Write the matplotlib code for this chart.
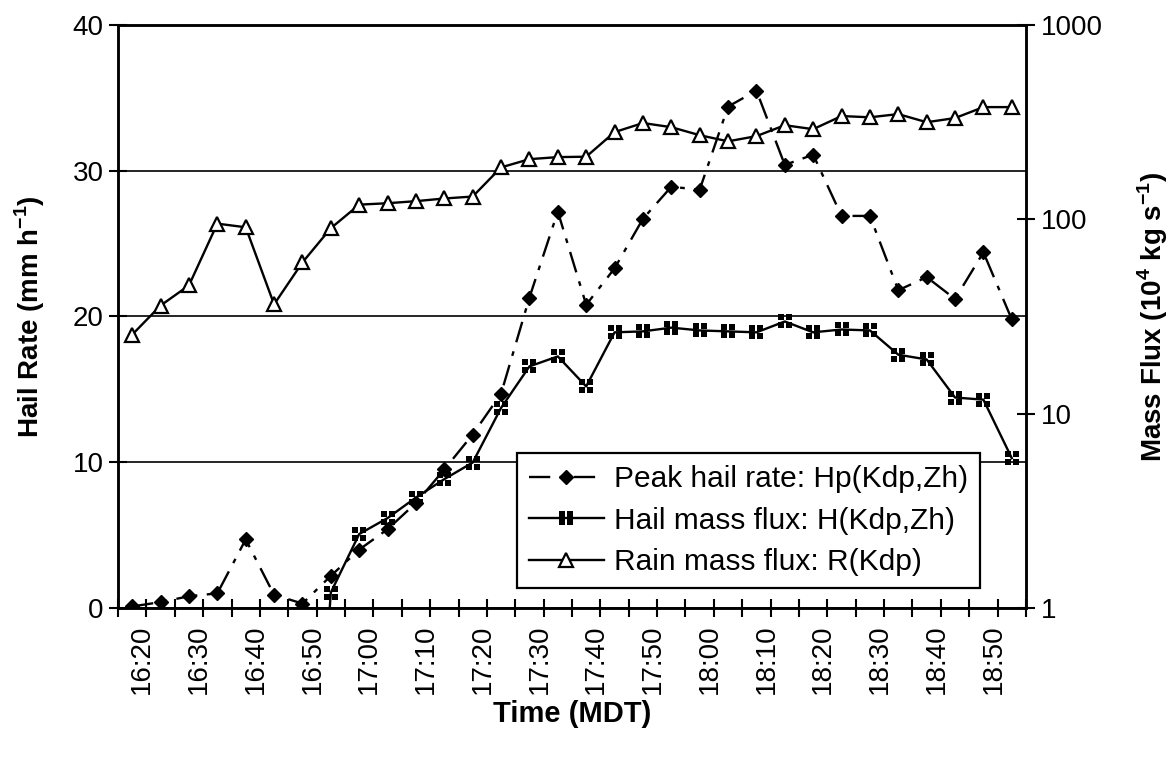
import numpy as np
import matplotlib
matplotlib.use('Agg')
import matplotlib.pyplot as plt
from matplotlib.path import Path
from matplotlib.transforms import Affine2D, ScaledTranslation
from matplotlib.ticker import FixedLocator, NullLocator, NullFormatter

plt.rcParams['font.family'] = ['Liberation Sans', 'DejaVu Sans']
plt.rcParams['mathtext.fontset'] = 'custom'
plt.rcParams['mathtext.rm'] = 'Liberation Sans'
plt.rcParams['mathtext.bf'] = 'Liberation Sans:bold'

# 5-minute steps, 16:20 .. 18:55 (MDT)
times = ['16:20', '16:25', '16:30', '16:35', '16:40', '16:45', '16:50', '16:55',
         '17:00', '17:05', '17:10', '17:15', '17:20', '17:25', '17:30', '17:35',
         '17:40', '17:45', '17:50', '17:55', '18:00', '18:05', '18:10', '18:15',
         '18:20', '18:25', '18:30', '18:35', '18:40', '18:45', '18:50', '18:55']

# peak hail rate Hp(Kdp,Zh), mm/h  (left axis)
peak_rate = [0.1, 0.4, 0.8, 1.0, 4.7, 0.9, 0.3, 2.2, 4.0, 5.4, 7.2, 9.5,
             11.9, 14.7, 21.3, 27.2, 20.8, 23.3, 26.7, 28.9, 28.7, 34.4,
             35.5, 30.4, 31.1, 26.9, 26.9, 21.8, 22.7, 21.2, 24.4, 19.8]

# hail mass flux H(Kdp,Zh), 10^4 kg/s  (right axis, below 1 before 16:55)
hail_flux = [np.nan, np.nan, np.nan, np.nan, np.nan, np.nan, 0.01, 1.2,
             2.4, 2.9, 3.7, 4.6, 5.6, 10.7, 17.5, 19.7, 13.8, 26.2, 26.5,
             27.7, 26.8, 26.5, 26.2, 29.8, 26.2, 27.1, 26.8, 20.1, 19.0,
             12.1, 11.8, 5.9]

# rain mass flux R(Kdp), 10^4 kg/s  (right axis)
rain_flux = [25.5, 36, 45.7, 95, 91, 36.5, 60, 90, 119, 121, 124, 128, 131,
             185, 204, 209, 210, 281, 313, 298, 271, 252, 268, 305, 291, 340,
             335, 348, 316, 332, 378, 378]


def quad_square():
    # excel-style "square" marker: four little black blocks
    parts = []
    for cx in (-0.55, 0.55):
        for cy in (-0.55, 0.55):
            parts.append(Path.unit_rectangle().transformed(
                Affine2D().scale(0.8).translate(cx - 0.4, cy - 0.4)))
    return Path.make_compound_path(*parts)


x = np.arange(len(times))
FS = 20

fig = plt.figure(figsize=(11.72, 7.58), dpi=100)
ax = fig.add_axes([0.1007, 0.198, 0.7747, 0.769])
ax2 = ax.twinx()

ln1, = ax.plot(x, peak_rate, color='black', lw=1.7,
               linestyle=(0, (9, 4, 2, 4)), marker='D', markersize=7.5,
               markerfacecolor='black', markeredgecolor='black',
               label='Peak hail rate: Hp(Kdp,Zh)')
ln2, = ax2.plot(x, hail_flux, color='black', lw=1.7, marker=quad_square(),
                markersize=10, markerfacecolor='black', markeredgewidth=0,
                label='Hail mass flux: H(Kdp,Zh)')
ln3, = ax2.plot(x, rain_flux, color='black', lw=1.7, marker='^',
                markersize=10, markerfacecolor='white',
                markeredgecolor='black', markeredgewidth=1.6,
                label='Rain mass flux: R(Kdp)')

ax.set_xlim(-0.5, len(times) - 0.5)
ax.set_ylim(0, 40)
ax.set_yticks([0, 10, 20, 30, 40])
ax.yaxis.grid(True, color='black', lw=1.2)
ax.set_axisbelow(True)

ax2.set_yscale('log')
ax2.set_ylim(1, 1000)
ax2.yaxis.set_major_locator(FixedLocator([1, 10, 100, 1000]))
ax2.yaxis.set_minor_locator(NullLocator())
ax2.yaxis.set_minor_formatter(NullFormatter())
ax2.set_yticklabels(['1', '10', '100', '1000'])

# category axis: tick marks between points, labels every 10 minutes
ax.set_xticks(x[::2])
ax.set_xticklabels(times[::2], rotation=90)
ax.xaxis.set_minor_locator(FixedLocator(np.arange(-0.5, len(times), 1.0)))
ax.tick_params(axis='x', which='major', length=0, labelsize=FS, pad=12)
ax.tick_params(axis='x', which='minor', direction='inout', length=13, width=1.5)
ax.tick_params(axis='y', direction='inout', length=13, width=1.5,
               labelsize=FS, pad=4)
ax2.tick_params(axis='y', direction='inout', length=13, width=1.5,
                labelsize=FS, pad=4)

# the time labels sit a little right of their points in the original
shift = ScaledTranslation(10 / 100, 0, fig.dpi_scale_trans)
for lab in ax.get_xticklabels():
    lab.set_transform(lab.get_transform() + shift)

for a in (ax, ax2):
    for spine in a.spines.values():
        spine.set_linewidth(1.8)
        spine.set_color('black')

ax.set_xlabel('Time (MDT)', fontsize=21, fontweight='bold', labelpad=4)
ax.set_ylabel(r'Hail Rate (mm h$^{\mathbf{-1}}$)', fontsize=FS,
              fontweight='bold', labelpad=18)
ax2.set_ylabel(r'Mass Flux (10$^{\mathbf{4}}$ kg s$^{\mathbf{-1}}$)',
               fontsize=FS, fontweight='bold', labelpad=24)

leg = ax2.legend(handles=[ln1, ln2, ln3], loc='lower right',
                 bbox_to_anchor=(0.949, 0.034), fontsize=21.5, frameon=True,
                 fancybox=False, framealpha=1, edgecolor='black',
                 handlelength=2.5, handletextpad=0.33, borderpad=0.4,
                 labelspacing=0.45, borderaxespad=0)
leg.get_frame().set_linewidth(1.6)

plt.savefig('out.png', dpi=100)
